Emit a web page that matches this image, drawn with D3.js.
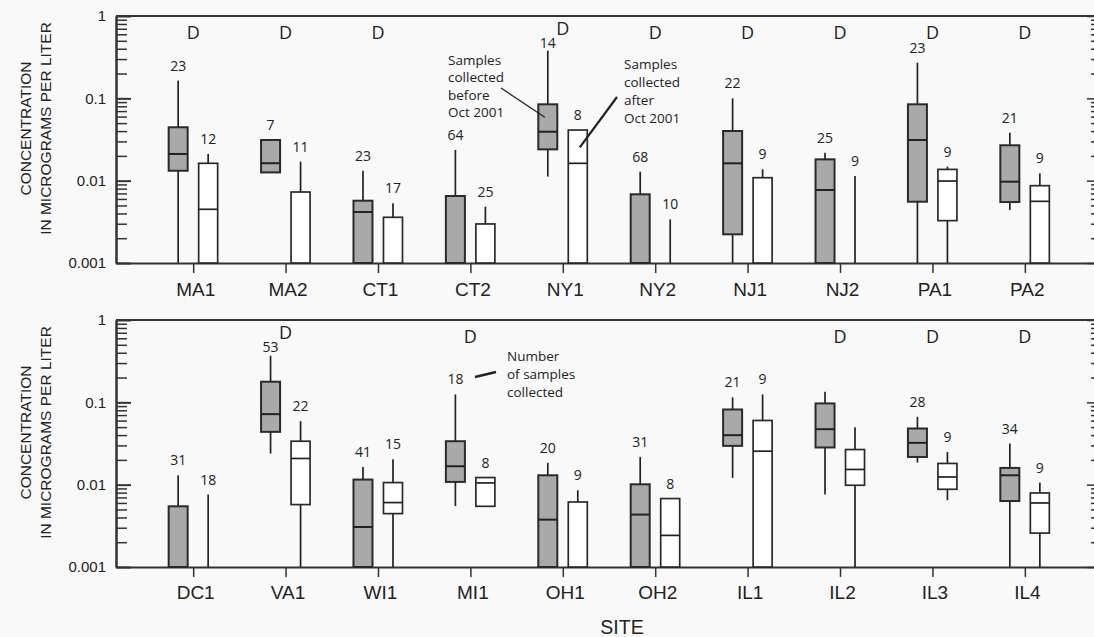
<!DOCTYPE html>
<html>
<head>
<meta charset="utf-8">
<script src="https://cdn.jsdelivr.net/npm/d3@7"></script>
<style>
    html, body { margin: 0; padding: 0; background: #f9f9f9; }
    svg { display: block; }
    .axis path, .axis line { stroke: #333; }
    .axis .domain { stroke-width: 2px; }
    .axis .tick line { stroke-width: 1.5px; }
    .y-tick-label { font-family: "Liberation Sans", Arial, sans-serif; font-size: 15px; fill: #222; }
    .site-label { font-family: "Liberation Sans", Arial, sans-serif; font-size: 19px; fill: #222; }
    .axis-title { font-family: "Liberation Sans", Arial, sans-serif; font-size: 15.5px; fill: #222; }
    .n-label { font-family: "Open Sans", "Noto Sans", sans-serif; font-size: 14px; fill: #222; }
    .d-label { font-family: "Open Sans", "Noto Sans", sans-serif; font-size: 18px; fill: #222; }
    .note { font-family: "Open Sans", "Noto Sans", sans-serif; font-size: 13.5px; fill: #222; }
</style>
</head>
<body>
<div class="draw-area"></div>
<script>
// ===================================================
// DATA
// ---------------------------------------------------
// Each box is [lowWhisker, q1, median, q3, highWhisker]
// in micrograms per liter. 0.001 = at/below the axis
// floor; null = not shown in the figure.
// ===================================================

const topSites = ["MA1", "MA2", "CT1", "CT2", "NY1", "NY2", "NJ1", "NJ2", "PA1", "PA2"];

const topBefore = [
    [0.001,  0.0132,  0.0211,  0.0445,  0.164],
    [0.0126, 0.0126,  0.0163,  0.0312,  0.0312],
    [0.001,  0.001,   0.00416, 0.00571, 0.0132],
    [0.001,  0.001,   null,    0.00651, 0.0236],
    [0.0112, 0.0240,  0.0393,  0.0846,  0.379],
    [0.001,  0.001,   null,    0.00683, 0.01285],
    [0.001,  0.00223, 0.01625, 0.0401,  0.1],
    [0.001,  0.001,   0.0077,  0.01815, 0.0219],
    [0.001,  0.00555, 0.0312,  0.0846,  0.271],
    [0.0044, 0.0055,  0.00972, 0.0269,  0.0383]
];
const topAfter = [
    [0.001, 0.001,   0.00449, 0.01625, 0.0211],
    [0.001, 0.001,   null,    0.00728, 0.0170],
    [0.001, 0.001,   null,    0.00359, 0.00531],
    [0.001, 0.001,   null,    0.00298, 0.00483],
    [0.001, 0.001,   0.01625, 0.0412,  0.0412],
    [0.001, null,    null,    null,    0.00339],
    [0.001, 0.001,   null,    0.01086, 0.01374],
    [0.001, null,    null,    null,    0.0114],
    [0.001, 0.00327, 0.0099,  0.0137,  0.0148],
    [0.001, 0.001,   0.00561, 0.00869, 0.01228]
];
const topBeforeN = [23, 7, 23, 64, 14, 68, 22, 25, 23, 21];
const topAfterN  = [12, 11, 17, 25, 8, 10, 9, 9, 9, 9];
const topDetected = ["MA1", "MA2", "CT1", "NY1", "NY2", "NJ1", "NJ2", "PA1", "PA2"];

const bottomSites = ["DC1", "VA1", "WI1", "MI1", "OH1", "OH2", "IL1", "IL2", "IL3", "IL4"];

const bottomBefore = [
    [0.001,   0.001,   null,    0.00546, 0.0130],
    [0.0239,  0.0438,  0.0719,  0.178,   0.368],
    [0.001,   0.001,   0.00306, 0.01153, 0.01643],
    [0.0055,  0.0108,  0.01675, 0.0337,  0.1247],
    [0.001,   0.001,   0.00376, 0.0130,  0.01837],
    [0.001,   0.001,   0.00433, 0.0101,  0.0217],
    [0.0121,  0.0296,  0.0399,  0.0819,  0.1148],
    [0.00757, 0.0283,  0.0472,  0.0970,  0.134],
    [0.0186,  0.0217,  0.0322,  0.0481,  0.0667],
    [0.001,   0.00633, 0.0130,  0.01597, 0.0316]
];
const bottomAfter = [
    [0.001,   null,    null,    null,    0.00757],
    [0.001,   0.00573, 0.0208,  0.0337,  0.0591],
    [0.001,   0.00445, 0.00606, 0.0106,  0.0204],
    [0.00546, 0.00546, 0.0105,  0.0122,  0.0122],
    [0.001,   0.001,   null,    0.00616, 0.00855],
    [0.001,   0.001,   0.00242, 0.00678, 0.00678],
    [0.001,   0.001,   0.0255,  0.0602,  0.1247],
    [0.001,   0.00984, 0.0153,  0.0267,  0.0499],
    [0.00646, 0.00879, 0.0124,  0.0181,  0.0250],
    [0.001,   0.00258, 0.00599, 0.00793, 0.0106]
];
const bottomBeforeN = [31, 53, 41, 18, 20, 31, 21, null, 28, 34];
const bottomAfterN  = [18, 22, 15, 8, 9, 8, 9, null, 9, 9];
const bottomDetected = ["VA1", "MI1", "IL2", "IL3", "IL4"];

const yMajorTicks = [0.001, 0.01, 0.1, 1];


// ===================================================
// LAYOUT
// ===================================================
const width = 1094, height = 637;
const plotLeft = 116, plotRight = 1102;
const boxWidth = 19;

const panels = [
    { top: 16,  bottom: 263, sites: topSites, before: topBefore, after: topAfter,
      beforeN: topBeforeN, afterN: topAfterN, detected: topDetected, labelPad: 10 },
    { top: 320, bottom: 567, sites: bottomSites, before: bottomBefore, after: bottomAfter,
      beforeN: bottomBeforeN, afterN: bottomAfterN, detected: bottomDetected, labelPad: 9 }
];

const svg = d3.select(".draw-area")
    .append("svg")
    .attr("width", width)
    .attr("height", height);

// minor ticks 2..9 inside each decade
const yMinorTicks = [];
yMajorTicks.slice(0, -1).forEach(d => {
    for (let k = 2; k <= 9; k++) yMinorTicks.push(d * k);
});

const pair = d3.scalePoint().domain(["before", "after"]).range([-15, 15]);


// ===================================================
// ONE PANEL
// ===================================================
function drawPanel(p) {
    const g = svg.append("g");

    const x = d3.scalePoint()
        .domain(p.sites)
        .range([plotLeft, plotRight])
        .padding(0.835);

    const y = d3.scaleLog()
        .domain([0.001, 1])
        .range([p.bottom, p.top]);

    p.x = x;
    p.y = y;

    // Left axis: majors with labels, minors without
    g.append("g")
        .attr("class", "axis")
        .attr("transform", `translate(${plotLeft},0)`)
        .call(d3.axisLeft(y).tickValues(yMinorTicks).tickSizeInner(-11).tickSizeOuter(0).tickFormat(""));
    const leftMajor = g.append("g")
        .attr("class", "axis")
        .attr("transform", `translate(${plotLeft},0)`)
        .call(d3.axisLeft(y).tickValues(yMajorTicks).tickSizeInner(-15).tickSizeOuter(0)
            .tickPadding(10).tickFormat(d3.format("~g")));
    leftMajor.selectAll("text").attr("class", "y-tick-label").attr("fill", null);
    leftMajor.selectAll(".tick line").style("stroke-width", "2px");

    // Right axis (sits just past the window edge, only the inward ticks show)
    g.append("g")
        .attr("class", "axis")
        .attr("transform", `translate(${plotRight},0)`)
        .call(d3.axisRight(y).tickValues(yMinorTicks).tickSizeInner(-11).tickSizeOuter(0).tickFormat(""));
    g.append("g")
        .attr("class", "axis")
        .attr("transform", `translate(${plotRight},0)`)
        .call(d3.axisRight(y).tickValues(yMajorTicks).tickSizeInner(-15).tickSizeOuter(0).tickFormat(""));

    // Bottom axis with site names
    const bottomAxis = g.append("g")
        .attr("class", "axis")
        .attr("transform", `translate(0,${p.bottom})`)
        .call(d3.axisBottom(x).tickSizeInner(10).tickSizeOuter(0).tickPadding(p.labelPad));
    bottomAxis.selectAll("text").attr("class", "site-label").attr("fill", null).attr("dx", 2);

    // Top frame line
    g.append("line")
        .attr("x1", plotLeft).attr("x2", plotRight)
        .attr("y1", p.top).attr("y2", p.top)
        .attr("stroke", "#333").attr("stroke-width", 2);

    // Boxes
    const series = [
        { key: "before", stats: p.before, n: p.beforeN, fill: "#a9a9a9", sw: 2 },
        { key: "after",  stats: p.after,  n: p.afterN,  fill: "#ffffff", sw: 1.7 }
    ];

    const nBaseline = (hi) => Math.max(y(hi) - 10, p.top + 32);

    series.forEach(s => {
        const layer = g.append("g").attr("class", "box-" + s.key);

        p.sites.forEach((site, i) => {
            const [lo, q1, med, q3, hi] = s.stats[i];
            const cx = x(site) + pair(s.key);

            if (q3 === null) {
                // only a whisker is visible
                layer.append("line")
                    .attr("x1", cx).attr("x2", cx)
                    .attr("y1", y(lo)).attr("y2", y(hi))
                    .attr("stroke", "#222").attr("stroke-width", 1.7);
            } else {
                if (hi > q3) {
                    layer.append("line")
                        .attr("x1", cx).attr("x2", cx)
                        .attr("y1", y(q3)).attr("y2", y(hi))
                        .attr("stroke", "#222").attr("stroke-width", 1.7);
                }
                if (q1 > lo) {
                    layer.append("line")
                        .attr("x1", cx).attr("x2", cx)
                        .attr("y1", y(lo)).attr("y2", y(q1))
                        .attr("stroke", "#222").attr("stroke-width", 1.7);
                }
                layer.append("rect")
                    .attr("x", cx - boxWidth / 2)
                    .attr("y", y(q3))
                    .attr("width", boxWidth)
                    .attr("height", y(q1) - y(q3))
                    .attr("fill", s.fill)
                    .attr("stroke", "#2a2a2a")
                    .attr("stroke-width", s.sw);
                if (med !== null) {
                    layer.append("line")
                        .attr("x1", cx - boxWidth / 2).attr("x2", cx + boxWidth / 2)
                        .attr("y1", y(med)).attr("y2", y(med))
                        .attr("stroke", "#222").attr("stroke-width", s.sw);
                }
            }

            // Number of samples
            if (s.n[i] !== null) {
                layer.append("text")
                    .attr("class", "n-label")
                    .attr("x", cx)
                    .attr("y", nBaseline(hi))
                    .attr("text-anchor", "middle")
                    .text(s.n[i]);
            }
        });
    });

    // "D" markers
    p.sites.forEach((site, i) => {
        if (!p.detected.includes(site)) return;
        const hi = p.before[i][4];
        const base = Math.min(p.top + 23, nBaseline(hi) - 13);
        g.append("text")
            .attr("class", "d-label")
            .attr("x", x(site))
            .attr("y", base)
            .attr("text-anchor", "middle")
            .text("D");
    });

    // Y axis title (two lines, rotated)
    const mid = (p.top + p.bottom) / 2 - 11;
    const title = g.append("text")
        .attr("class", "axis-title")
        .attr("transform", `translate(0,${mid}) rotate(-90)`)
        .attr("text-anchor", "middle");
    title.append("tspan").attr("x", 0).attr("y", 30.5).text("CONCENTRATION");
    title.append("tspan").attr("x", 0).attr("y", 50.5).text("IN MICROGRAMS PER LITER");
}

panels.forEach(drawPanel);


// ===================================================
// ANNOTATIONS
// ===================================================
function noteBlock(lines, x, y0, step) {
    const t = svg.append("text").attr("class", "note");
    lines.forEach((line, i) => {
        t.append("tspan").attr("x", x).attr("y", y0 + i * step).text(line);
    });
}

const topP = panels[0], botP = panels[1];

noteBlock(["Samples", "collected", "before", "Oct 2001"], 448, 64.5, 17.5);
svg.append("line")
    .attr("x1", 501).attr("y1", 88)
    .attr("x2", topP.x("NY1") + pair("before") - 3).attr("y2", topP.y(0.059))
    .attr("stroke", "#222").attr("stroke-width", 1.3);

noteBlock(["Samples", "collected", "after", "Oct 2001"], 624, 68.5, 18);
svg.append("line")
    .attr("x1", 617).attr("y1", 97)
    .attr("x2", topP.x("NY1") + pair("after") + 2).attr("y2", topP.y(0.0254))
    .attr("stroke", "#222").attr("stroke-width", 2.2);

noteBlock(["Number", "of samples", "collected"], 507, 361, 17.8);
svg.append("line")
    .attr("x1", 475).attr("y1", 377)
    .attr("x2", 496).attr("y2", 372)
    .attr("stroke", "#222").attr("stroke-width", 2.5);

// X axis title
svg.append("text")
    .attr("class", "site-label")
    .attr("x", 622)
    .attr("y", 634)
    .attr("text-anchor", "middle")
    .style("font-size", "19.5px")
    .text("SITE");
</script>
</body>
</html>
